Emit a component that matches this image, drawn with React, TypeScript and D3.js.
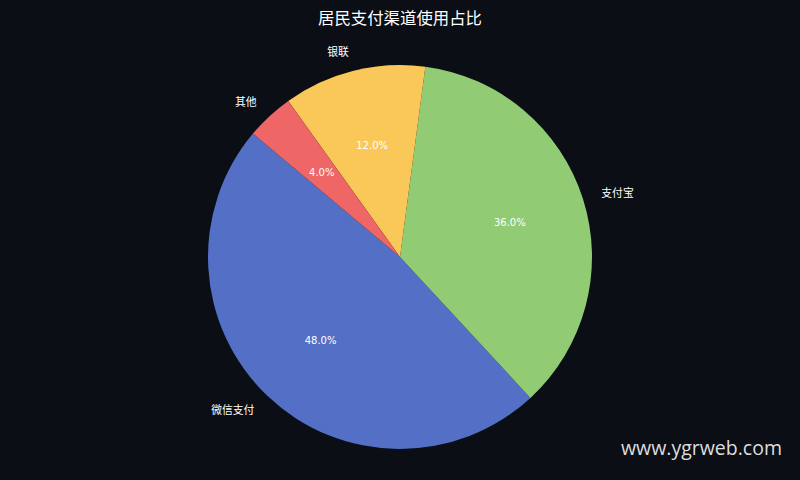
import * as d3 from "d3";

const labels = ["微信支付", "支付宝", "银联", "其他"];
const shares = [48, 36, 12, 4];
const colors = ["#5470c6", "#91cc75", "#fac858", "#ee6666"];

const width = 800;
const height = 480;
const cx = 400;
const cy = 257;
const radius = 192;
const startDeg = 140;
const font = "'DejaVu Sans', 'Noto Sans CJK SC', sans-serif";

export default function App() {
  // matplotlib style: counterclockwise from startangle (math degrees)
  const pie = d3.pie<number>()
    .sort(null)
    .startAngle(((90 - startDeg) * Math.PI) / 180)
    .endAngle(((90 - startDeg - 360) * Math.PI) / 180);
  const arcs = pie(shares);
  const arc = d3.arc<d3.PieArcDatum<number>>().innerRadius(0).outerRadius(radius);

  const at = (d: d3.PieArcDatum<number>, r: number) => {
    const a = (d.startAngle + d.endAngle) / 2;
    return [r * Math.sin(a), -r * Math.cos(a)];
  };

  return (
    <svg width={width} height={height} style={{ position: "absolute", left: 0, top: 0 }}>
      <rect width={width} height={height} fill="#0b0e15" />
      <text x={400} y={24} textAnchor="middle" fill="#ffffff" fontSize={16.4} fontFamily={font}>
        居民支付渠道使用占比
      </text>
      <g transform={`translate(${cx},${cy})`}>
        {arcs.map((d, i) => (
          <path key={labels[i]} d={arc(d) ?? ""} fill={colors[i]} />
        ))}
        {arcs.map((d, i) => {
          const [x, y] = at(d, radius * 1.1);
          return (
            <text key={"l" + i} x={x} y={y} dy="0.35em" textAnchor={x < 0 ? "end" : "start"}
              fill="#ffffff" fontSize={10.8} fontFamily={font}>
              {labels[i]}
            </text>
          );
        })}
        {arcs.map((d, i) => {
          const [x, y] = at(d, radius * 0.6);
          return (
            <text key={"p" + i} x={x} y={y} dy="0.35em" textAnchor="middle"
              fill="#ffffff" fontSize={10} fontFamily={font}>
              {d3.format(".1f")(shares[i])}%
            </text>
          );
        })}
      </g>
      <text x={782} y={455} textAnchor="end" fill="#dddddd" fontSize={19.5} fontFamily="'Open Sans', 'Noto Sans', sans-serif">
        www.ygrweb.com
      </text>
    </svg>
  );
}
